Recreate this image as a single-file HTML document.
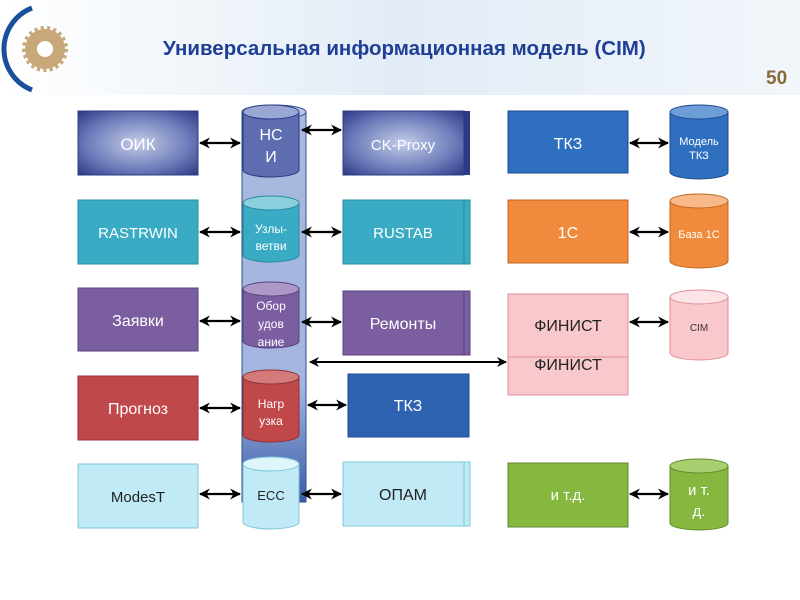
<!DOCTYPE html>
<html><head><meta charset="utf-8"><style>body{margin:0;background:#fff}svg{display:block}text{font-family:"Liberation Sans",sans-serif}</style></head><body>
<svg width="800" height="600" viewBox="0 0 800 600" xmlns="http://www.w3.org/2000/svg">
<defs>
<linearGradient id="hdr" x1="0" y1="0" x2="1" y2="0"><stop offset="0" stop-color="#fff"/><stop offset="0.5" stop-color="#e2ecf6"/><stop offset="1" stop-color="#f2f6fb"/></linearGradient>
<radialGradient id="dk" cx="0.5" cy="0.5" r="0.7"><stop offset="0" stop-color="#c4cde8"/><stop offset="0.6" stop-color="#6d7cba"/><stop offset="1" stop-color="#2c3a86"/></radialGradient>
<linearGradient id="tall" x1="0" y1="0" x2="0" y2="1"><stop offset="0" stop-color="#a9b8de"/><stop offset="0.7" stop-color="#a3b6e0"/><stop offset="1" stop-color="#3b5ba8"/></linearGradient>
<marker id="a" viewBox="0 0 10 10" refX="9" refY="5" markerWidth="5" markerHeight="5" orient="auto-start-reverse"><path d="M0,0 L10,5 L0,10 L3,5z" fill="#000"/></marker>
</defs>
<rect x="0" y="0" width="800" height="95" fill="url(#hdr)"/>
<path d="M32,8 A44,44 0 0 0 32,90" fill="none" stroke="#1a4f9c" stroke-width="5"/>
<circle cx="45" cy="49" r="20" fill="#c8a878"/><circle cx="45" cy="49" r="20" fill="none" stroke="#c8a878" stroke-width="6" stroke-dasharray="3 3"/><circle cx="45" cy="49" r="8" fill="#fff"/>
<text x="163" y="55" font-size="20.5" font-weight="bold" fill="#1f3f97">Универсальная информационная модель (CIM)</text>
<text x="766" y="84" font-size="19" font-weight="bold" fill="#8a6a3a">50</text>

<rect x="242" y="112" width="64" height="390" fill="url(#tall)" stroke="#2e4f8f"/>
<ellipse cx="274" cy="112" rx="32" ry="7" fill="#b9c6e6" stroke="#2e4f8f"/>

<g stroke-width="2.2" stroke="#000" marker-start="url(#a)" marker-end="url(#a)">
<line x1="200" y1="143" x2="240" y2="143"/><line x1="200" y1="232" x2="240" y2="232"/><line x1="200" y1="321" x2="240" y2="321"/><line x1="200" y1="408" x2="240" y2="408"/><line x1="200" y1="494" x2="240" y2="494"/>
<line x1="302" y1="130" x2="341" y2="130"/><line x1="302" y1="232" x2="341" y2="232"/><line x1="302" y1="322" x2="341" y2="322"/><line x1="308" y1="405" x2="346" y2="405"/><line x1="302" y1="494" x2="341" y2="494"/>
<line x1="630" y1="143" x2="668" y2="143"/><line x1="630" y1="232" x2="668" y2="232"/><line x1="630" y1="322" x2="668" y2="322"/><line x1="630" y1="494" x2="668" y2="494"/>
</g>
<line x1="310" y1="362" x2="506" y2="362" stroke="#000" stroke-width="2" marker-start="url(#a)" marker-end="url(#a)"/>

<rect x="78" y="111" width="120" height="64" fill="url(#dk)" stroke="#2c3a86"/>
<text x="138" y="150" font-size="17" fill="#fff" text-anchor="middle">ОИК</text>
<rect x="78" y="200" width="120" height="64" fill="#3aabc4" stroke="#2a8aa0"/>
<text x="138" y="238" font-size="15" fill="#fff" text-anchor="middle">RASTRWIN</text>
<rect x="78" y="288" width="120" height="63" fill="#7b5ea0" stroke="#5a4280"/>
<text x="138" y="326" font-size="16" fill="#fff" text-anchor="middle">Заявки</text>
<rect x="78" y="376" width="120" height="64" fill="#c0484a" stroke="#903234"/>
<text x="138" y="414" font-size="16" fill="#fff" text-anchor="middle">Прогноз</text>
<rect x="78" y="464" width="120" height="64" fill="#bfeaf6" stroke="#7cc8de"/>
<text x="138" y="502" font-size="15" fill="#222" text-anchor="middle">ModesT</text>

<rect x="347" y="111" width="123" height="64" fill="#2c3a86"/>
<rect x="343" y="111" width="121" height="64" fill="url(#dk)" stroke="#2c3a86"/>
<text x="403" y="150" font-size="15" fill="#fff" text-anchor="middle">CK-Proxy</text>
<rect x="347" y="200" width="123" height="64" fill="#3aabc4" stroke="#2a8aa0"/>
<rect x="343" y="200" width="121" height="64" fill="#3aabc4" stroke="#2a8aa0"/>
<text x="403" y="238" font-size="15" fill="#fff" text-anchor="middle">RUSTAB</text>
<rect x="347" y="291" width="123" height="64" fill="#7b5ea0" stroke="#5a4280"/>
<rect x="343" y="291" width="121" height="64" fill="#7b5ea0" stroke="#5a4280"/>
<text x="403" y="329" font-size="16" fill="#fff" text-anchor="middle">Ремонты</text>
<rect x="348" y="374" width="121" height="63" fill="#2f62b0" stroke="#1e4a8c"/>
<text x="408" y="411" font-size="16" fill="#fff" text-anchor="middle">ТКЗ</text>
<rect x="347" y="462" width="123" height="64" fill="#bfeaf6" stroke="#7cc8de"/>
<rect x="343" y="462" width="121" height="64" fill="#bfeaf6" stroke="#7cc8de"/>
<text x="403" y="500" font-size="16" fill="#222" text-anchor="middle">ОПАМ</text>

<g stroke-width="1">
<path d="M243,112 v58 a28,7 0 0 0 56,0 v-58z" fill="#5d6db0" stroke="#2c3a86"/><ellipse cx="271" cy="112" rx="28" ry="7" fill="#9aa6d4" stroke="#2c3a86"/>
<text x="271" y="140" font-size="16" fill="#fff" text-anchor="middle">НС</text><text x="271" y="162" font-size="16" fill="#fff" text-anchor="middle">И</text>
<path d="M243,203 v52 a28,7 0 0 0 56,0 v-52z" fill="#3aabc4" stroke="#2a8aa0"/><ellipse cx="271" cy="203" rx="28" ry="7" fill="#8cd0dd" stroke="#2a8aa0"/>
<text x="271" y="233" font-size="12" fill="#fff" text-anchor="middle">Узлы-</text><text x="271" y="250" font-size="12" fill="#fff" text-anchor="middle">ветви</text>
<path d="M243,289 v52 a28,7 0 0 0 56,0 v-52z" fill="#7b5ea0" stroke="#5a4280"/><ellipse cx="271" cy="289" rx="28" ry="7" fill="#ab98c6" stroke="#5a4280"/>
<text x="271" y="310" font-size="12" fill="#fff" text-anchor="middle">Обор</text><text x="271" y="328" font-size="12" fill="#fff" text-anchor="middle">удов</text><text x="271" y="346" font-size="12" fill="#fff" text-anchor="middle">ание</text>
<path d="M243,377 v58 a28,7 0 0 0 56,0 v-58z" fill="#c0484a" stroke="#903234"/><ellipse cx="271" cy="377" rx="28" ry="7" fill="#d47a7b" stroke="#903234"/>
<text x="271" y="408" font-size="12" fill="#fff" text-anchor="middle">Нагр</text><text x="271" y="425" font-size="12" fill="#fff" text-anchor="middle">узка</text>
<path d="M243,464 v58 a28,7 0 0 0 56,0 v-58z" fill="#bfeaf6" stroke="#7cc8de"/><ellipse cx="271" cy="464" rx="28" ry="7" fill="#dff5fb" stroke="#7cc8de"/>
<text x="271" y="500" font-size="13" fill="#222" text-anchor="middle">ЕСС</text>
</g>

<rect x="508" y="111" width="120" height="62" fill="#2f6fc0" stroke="#1e4a8c"/>
<text x="568" y="149" font-size="16" fill="#fff" text-anchor="middle">ТКЗ</text>
<rect x="508" y="200" width="120" height="63" fill="#f08a3c" stroke="#c06620"/>
<text x="568" y="238" font-size="16" fill="#fff" text-anchor="middle">1С</text>
<rect x="508" y="330" width="120" height="65" fill="#f9c8cc" stroke="#e09098"/>
<text x="568" y="370" font-size="16" fill="#222" text-anchor="middle">ФИНИСТ</text>
<rect x="508" y="294" width="120" height="63" fill="#f9c8cc" stroke="#e09098"/>
<text x="568" y="331" font-size="16" fill="#222" text-anchor="middle">ФИНИСТ</text>
<rect x="508" y="463" width="120" height="64" fill="#86b840" stroke="#5f8a2a"/>
<text x="568" y="500" font-size="15" fill="#fff" text-anchor="middle">и т.д.</text>

<g>
<path d="M670,112 v60 a29,7 0 0 0 58,0 v-60z" fill="#2f6fc0" stroke="#1e4a8c"/><ellipse cx="699" cy="112" rx="29" ry="7" fill="#6e9ed8" stroke="#1e4a8c"/>
<text x="699" y="145" font-size="11" fill="#fff" text-anchor="middle">Модель</text><text x="699" y="159" font-size="11" fill="#fff" text-anchor="middle">ТКЗ</text>
<path d="M670,201 v60 a29,7 0 0 0 58,0 v-60z" fill="#f08a3c" stroke="#c06620"/><ellipse cx="699" cy="201" rx="29" ry="7" fill="#f8b888" stroke="#c06620"/>
<text x="699" y="238" font-size="11" fill="#fff" text-anchor="middle">База 1С</text>
<path d="M670,297 v56 a29,7 0 0 0 58,0 v-56z" fill="#f9c8cc" stroke="#e09098"/><ellipse cx="699" cy="297" rx="29" ry="7" fill="#fde4e6" stroke="#e09098"/>
<text x="699" y="331" font-size="10" fill="#333" text-anchor="middle">CIM</text>
<path d="M670,466 v57 a29,7 0 0 0 58,0 v-57z" fill="#86b840" stroke="#5f8a2a"/><ellipse cx="699" cy="466" rx="29" ry="7" fill="#a8d070" stroke="#5f8a2a"/>
<text x="699" y="495" font-size="15" fill="#fff" text-anchor="middle">и т.</text><text x="699" y="516" font-size="15" fill="#fff" text-anchor="middle">д.</text>
</g>
</svg>
</body></html>
